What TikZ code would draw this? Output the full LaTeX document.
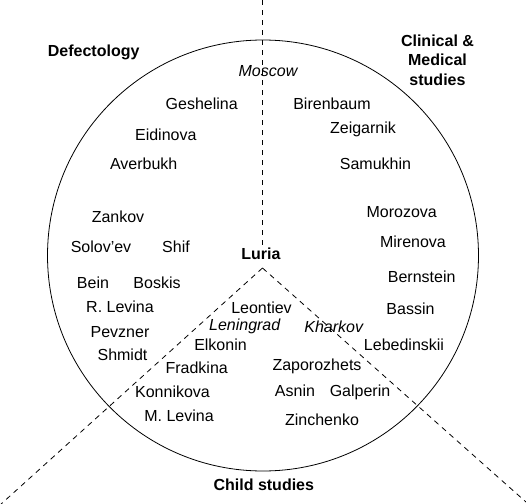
\documentclass[tikz,border=0pt]{standalone}
\usepackage{fontspec}
\setmainfont{Liberation Sans}
\usepackage{tikz}
\usetikzlibrary{positioning}

\tikzset{
    person/.style={inner sep=0.75pt, font=\fontsize{12}{14.6}\selectfont},
    city/.style={person, font=\fontsize{12}{14.6}\selectfont\itshape},
    field/.style={person, font=\fontsize{12}{14.6}\selectfont\bfseries, align=center},
    border/.style={dash pattern={on 4pt off 3.5pt}, line width=0.6pt}
}

\begin{document}
\begin{tikzpicture}[x=0.75pt,y=0.75pt,yscale=-1,xscale=1]
    \useasboundingbox (0,0) rectangle (526,504);

    %Shape: Circle
    \draw [line width=0.6pt] (263,255.5) circle [radius=215.5];

    % Field labels
    \node [field] (defect) at (93.7,52) {Defectology};
    \node [field] (clinic) at (437.5,60) {Clinical \&\\Medical\\studies};
    \node [field] (child) at (263.8,485) {Child studies};
    \node [field] (luria) at (261,254) {Luria};

    % Cities
    \node [city] (moscow) at (268,71) {Moscow};
    \node [city] (leningrad) at (244.7,326.7) {Leningrad};
    \node [city] (kharkov) at (333.7,326.7) {Kharkov};

    % Text Node
    \node [person] (geshelina) at (201.7,104) {Geshelina};
    \node [person] (eidinova) at (165.8,134.7) {Eidinova};
    \node [person] (averbukh) at (143.7,163.5) {Averbukh};
    \node [person] (zankov) at (118,217) {Zankov};
    \node [person] (solovev) at (101,247) {Solov'ev};
    \node [person] (shif) at (176,247) {Shif};
    \node [person] (bein) at (93,283) {Bein};
    \node [person] (boskis) at (157,283) {Boskis};
    \node [person] (rlevina) at (120,307) {R. Levina};
    \node [person] (pevzner) at (120,331.7) {Pevzner};
    \node [person] (shmidt) at (122.5,355) {Shmidt};
    % Text Node
    \node [person] (birenbaum) at (332,104) {Birenbaum};
    \node [person] (zeigarnik) at (363,129) {Zeigarnik};
    \node [person] (samukhin) at (375.5,164) {Samukhin};
    \node [person] (morozova) at (401.7,211.7) {Morozova};
    \node [person] (mirenova) at (413,241.7) {Mirenova};
    \node [person] (bernstein) at (421.7,277) {Bernstein};
    \node [person] (bassin) at (410.5,309) {Bassin};
    \node [person] (lebedinskii) at (404,345) {Lebedinskii};
    % Text Node
    \node [person] (leontiev) at (261.5,308) {Leontiev};
    \node [person] (elkonin) at (220.5,345) {Elkonin};
    \node [person] (fradkina) at (196.7,368) {Fradkina};
    \node [person] (konnikova) at (172.5,391.7) {Konnikova};
    \node [person] (mlevina) at (179,416) {M. Levina};
    \node [person] (zaporozhets) at (317,366) {Zaporozhets};
    \node [person] (asnin) at (295,391) {Asnin};
    \node [person] (galperin) at (360,392.7) {Galperin};
    \node [person] (zinchenko) at (322,420) {Zinchenko};

    % Dashed borders
    \coordinate (top) at (262,0);
    \coordinate (hub) at (262.5,268);
    \coordinate (lowleft) at (0,505);
    \coordinate (lowright) at (526,502);
    \draw [border] (top) -- (luria.north -| top);
    \draw [border] (hub) -- (lowleft);
    \draw [border] (hub) -- (lowright);

\end{tikzpicture}
\end{document}
